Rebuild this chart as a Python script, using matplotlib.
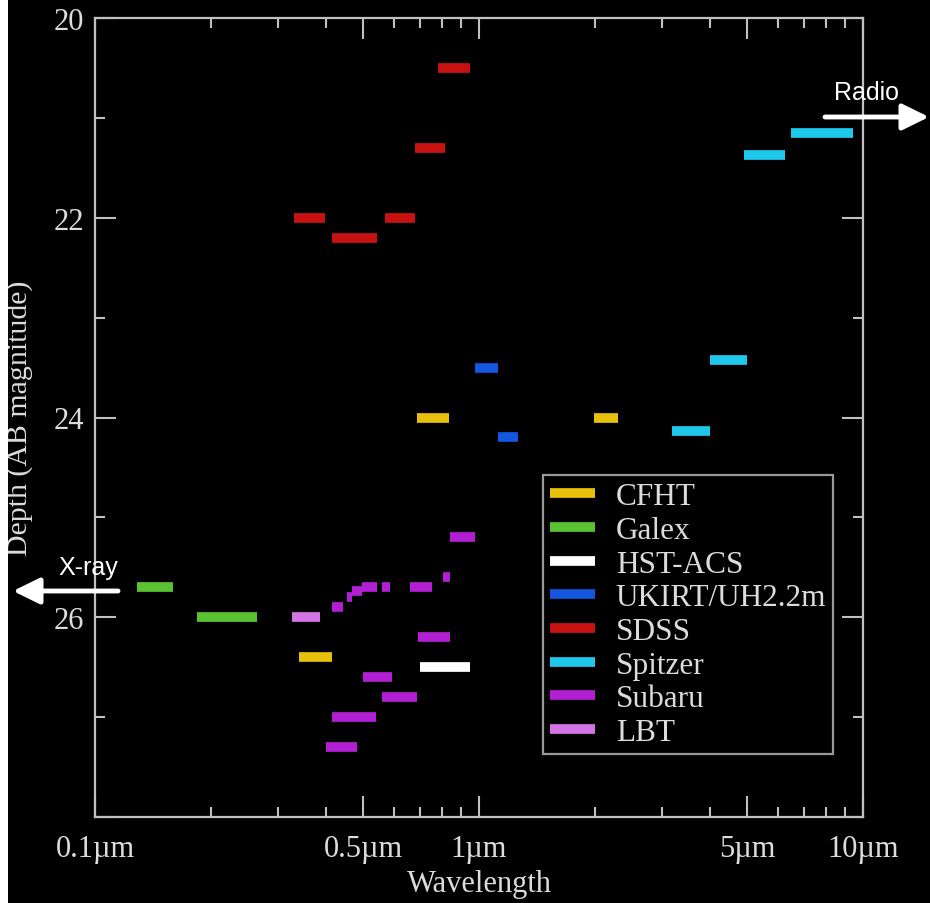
import matplotlib
matplotlib.use("Agg")
import matplotlib.pyplot as plt
from matplotlib.patches import Rectangle

# filter coverage: (lambda_lo [um], lambda_hi [um], depth [AB mag])
CFHT = [(0.34, 0.414, 26.4), (0.688, 0.836, 24.0), (1.99, 2.30, 24.0)]
GALEX = [(0.129, 0.160, 25.7), (0.184, 0.264, 26.0)]
HST_ACS = [(0.70, 0.947, 26.5)]
UKIRT = [(0.977, 1.12, 23.5), (1.12, 1.26, 24.2)]
SDSS = [(0.33, 0.397, 22.0), (0.414, 0.542, 22.2), (0.569, 0.681, 22.0),
        (0.681, 0.815, 21.3), (0.782, 0.947, 20.5)]
SPITZER = [(3.18, 4.0, 24.14), (4.0, 4.99, 23.42), (4.90, 6.26, 21.37),
           (6.49, 9.42, 21.15)]
SUBARU = [(0.414, 0.442, 25.9), (0.453, 0.467, 25.8), (0.467, 0.495, 25.74),
          (0.495, 0.542, 25.7), (0.559, 0.585, 25.7), (0.661, 0.755, 25.7),
          (0.806, 0.84, 25.6), (0.694, 0.84, 26.2), (0.499, 0.593, 26.6),
          (0.559, 0.690, 26.8), (0.414, 0.539, 27.0), (0.400, 0.481, 27.3),
          (0.84, 0.977, 25.2)]
LBT = [(0.326, 0.385, 26.0)]

SURVEYS = [
    ("CFHT", CFHT, "#e6c00a"),
    ("Galex", GALEX, "#58c232"),
    ("HST-ACS", HST_ACS, "#ffffff"),
    ("UKIRT/UH2.2m", UKIRT, "#1556e0"),
    ("SDSS", SDSS, "#c81212"),
    ("Spitzer", SPITZER, "#1ec8ea"),
    ("Subaru", SUBARU, "#b21ed2"),
    ("LBT", LBT, "#d474e4"),
]

XTICKS = [0.1, 0.5, 1, 5, 10]
XTICK_LABELS = ["0.1\u00b5m", "0.5\u00b5m", "1\u00b5m", "5\u00b5m", "10\u00b5m"]
XMINOR = [0.2, 0.3, 0.4, 0.6, 0.7, 0.8, 0.9, 2, 3, 4, 6, 7, 8, 9]
YTICKS = [20, 22, 24, 26, 28]
YTICK_LABELS = ["20", "22", "24", "26", ""]

FG = "#dcdcdc"
SPINE = "#c0c0c0"
plt.rcParams["font.family"] = ["Liberation Serif", "DejaVu Serif"]

fig = plt.figure(figsize=(9.3, 9.04), dpi=100, facecolor="black")
ax = fig.add_axes([95 / 930, 1 - 818 / 904, 768 / 930, 799 / 904], facecolor="black")

for name, bands, color in SURVEYS:
    ax.hlines([b[2] for b in bands], [b[0] for b in bands], [b[1] for b in bands],
              colors=color, linewidth=7, label=name)

ax.set_xscale("log")
ax.set_xlim(0.1, 10)
ax.set_ylim(28, 20)
ax.set_xticks(XTICKS)
ax.set_xticklabels(XTICK_LABELS)
ax.set_xticks(XMINOR, minor=True)
ax.set_xticklabels([], minor=True)
ax.set_yticks(YTICKS)
ax.set_yticklabels(YTICK_LABELS)
ax.set_yticks([21, 23, 25, 27], minor=True)

ax.tick_params(which="both", direction="in", top=True, right=True,
               color=SPINE, labelcolor=FG, labelsize=22, width=1.5, pad=8)
ax.tick_params(axis="x", which="major", pad=12.5)
ax.tick_params(which="major", length=15)
ax.tick_params(which="minor", length=7.5)
for s in ax.spines.values():
    s.set_color(SPINE)
    s.set_linewidth(1.6)

ax.set_xlabel("Wavelength", fontsize=22, color=FG, va="center")
ax.xaxis.set_label_coords(0.5, -0.083)
ax.set_ylabel("Depth (AB magnitude)", fontsize=21.5, color=FG, va="center")
ax.yaxis.set_label_coords(-0.098, 0.5)

leg = ax.legend(loc="lower right", bbox_to_anchor=(0.961, 0.079), fontsize=22.5,
                frameon=True, facecolor="black", edgecolor=SPINE, fancybox=False,
                labelspacing=0.15, handlelength=1.45, handletextpad=0.65,
                borderpad=0.22, borderaxespad=0)
leg.get_frame().set_linewidth(1.6)
for t in leg.get_texts():
    t.set_color(FG)

# white strip along the left edge
fig.patches.append(Rectangle((0, 0), 8 / 930, 1, transform=fig.transFigure,
                             facecolor="white", edgecolor="none"))

# direction arrows
arrow = dict(arrowstyle="-|>,head_length=0.65,head_width=0.32", color="white",
             lw=3.5, mutation_scale=25, shrinkA=0, shrinkB=0)
ax.annotate("", xy=(929 / 930, 1 - 118 / 904), xytext=(825 / 930, 1 - 118 / 904),
            xycoords="figure fraction", textcoords="figure fraction",
            arrowprops=arrow, annotation_clip=False)
ax.annotate("", xy=(13 / 930, 1 - 592 / 904), xytext=(118 / 930, 1 - 592 / 904),
            xycoords="figure fraction", textcoords="figure fraction",
            arrowprops=arrow, annotation_clip=False)
fig.text(866 / 930, 1 - 93 / 904, "Radio", color="white", fontsize=18,
         family=["Liberation Sans", "DejaVu Sans"], ha="center", va="center")
fig.text(88 / 930, 1 - 568 / 904, "X-ray", color="white", fontsize=18,
         family=["Liberation Sans", "DejaVu Sans"], ha="center", va="center")

fig.savefig("out.png", dpi=100, facecolor="black")
